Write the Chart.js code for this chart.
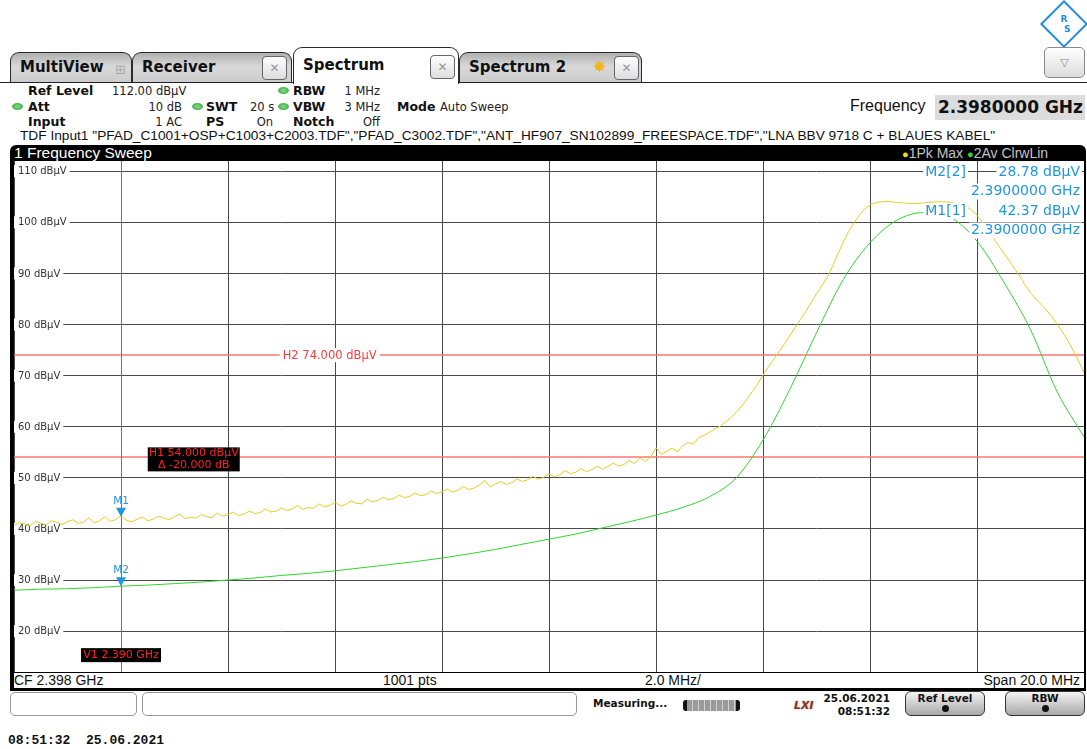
<!DOCTYPE html>
<html>
<head>
<meta charset="utf-8">
<script src="https://cdn.jsdelivr.net/npm/chart.js@4.4.1/dist/chart.umd.min.js"></script>
<style>
  body { margin: 0; width: 1087px; height: 749px; background: #fff; position: relative; overflow: hidden; font-family: 'DejaVu Sans', sans-serif; color: #111; }
  .abs { position: absolute; white-space: nowrap; }
  .tab { position: absolute; top: 52px; height: 31px; border: 1px solid #2a2a2a; border-bottom: none; border-radius: 9px 9px 0 0; background: linear-gradient(#b0b0b0, #d8d8d8 45%, #cbcbcb); box-sizing: border-box; z-index: 1; }
  .tab.active { top: 47px; height: 37px; background: #fff; z-index: 3; }
  .tab .t { position: absolute; left: 9px; top: 5px; font: bold 15px 'DejaVu Sans'; }
  .tab.active .t { top: 8px; }
  .close { position: absolute; top: 3px; width: 25px; height: 24px; border: 1px solid #666; border-radius: 4px; background: linear-gradient(#fff, #dedede); box-sizing: border-box; text-align: center; font: 12px 'DejaVu Sans'; color: #9a9a9a; line-height: 22px; }
  .lbl { font: bold 12.5px 'DejaVu Sans'; }
  .val { font: 11.5px 'DejaVu Sans'; color: #222; }
  .dot { position: absolute; width: 11px; height: 7px; border-radius: 50%; background: radial-gradient(#7fe07f, #2e9e3a); }
  .btn { position: absolute; top: 691px; width: 80px; height: 25px; border: 1px solid #333; border-radius: 6px; background: linear-gradient(#f4f4f4, #a8a8a8); box-sizing: border-box; text-align: center; font: bold 10.5px 'DejaVu Sans'; }
  .btn i { display: block; width: 7px; height: 7px; border-radius: 50%; background: #111; margin: 1px auto 0; }
</style>
</head>
<body>

<!-- R&S logo -->
<div class="abs" style="left:1047px;top:7px;width:30px;height:30px;border:2px solid #1f8fd6;transform:rotate(45deg);background:#fff;"></div>
<div class="abs" style="left:1049px;top:14px;width:30px;text-align:center;font:bold 9px 'DejaVu Sans';color:#1f8fd6;">R<br>&nbsp;&nbsp;S</div>

<!-- tabs -->
<div class="abs" style="left:0;top:82px;width:1087px;height:1px;background:#222;z-index:2;"></div>
<div class="tab" style="left:10px;width:122px;">
  <span class="t">MultiView</span>
  <span class="abs" style="left:104px;top:9px;font:13px 'DejaVu Sans';color:#aaa;">⊞</span>
</div>
<div class="tab" style="left:132px;width:160px;">
  <span class="t">Receiver</span>
  <div class="close" style="left:129px;">✕</div>
</div>
<div class="tab active" style="left:293px;width:166px;">
  <span class="t">Spectrum</span>
  <div class="close" style="left:136px;top:7px;">✕</div>
</div>
<div class="tab" style="left:459px;width:183px;">
  <span class="t">Spectrum 2</span>
  <span class="abs" style="left:133px;top:4px;font:16px 'DejaVu Sans';color:#f2b51e;">✸</span>
  <div class="close" style="left:154px;">✕</div>
</div>
<div class="abs" style="left:1044px;top:47px;width:41px;height:31px;border:1px solid #888;border-radius:5px;background:linear-gradient(#fff,#dcdcdc);box-sizing:border-box;text-align:center;font:11px 'DejaVu Sans';color:#888;line-height:29px;">▽</div>

<!-- settings block -->
<span class="abs lbl" style="left:28px;top:83px;">Ref Level</span>
<span class="abs val" style="left:112px;top:84px;">112.00 dBµV</span>
<div class="dot" style="left:278px;top:87px;"></div>
<span class="abs lbl" style="left:293px;top:83px;">RBW</span>
<span class="abs val" style="right:707px;top:84px;">1 MHz</span>

<div class="dot" style="left:12px;top:103px;"></div>
<span class="abs lbl" style="left:28px;top:99px;">Att</span>
<span class="abs val" style="right:905px;top:100px;">10 dB</span>
<div class="dot" style="left:192px;top:103px;"></div>
<span class="abs lbl" style="left:206px;top:99px;">SWT</span>
<span class="abs val" style="left:250px;top:100px;">20 s</span>
<div class="dot" style="left:278px;top:103px;"></div>
<span class="abs lbl" style="left:293px;top:99px;">VBW</span>
<span class="abs val" style="right:707px;top:100px;">3 MHz</span>
<span class="abs lbl" style="left:397px;top:99px;">Mode</span>
<span class="abs val" style="left:440px;top:100px;">Auto Sweep</span>

<span class="abs lbl" style="left:28px;top:114px;">Input</span>
<span class="abs val" style="right:905px;top:115px;">1 AC</span>
<span class="abs lbl" style="left:206px;top:114px;">PS</span>
<span class="abs val" style="right:814px;top:115px;">On</span>
<span class="abs lbl" style="left:293px;top:114px;">Notch</span>
<span class="abs val" style="right:707px;top:115px;">Off</span>

<span class="abs" style="left:850px;top:97px;font:16px 'Liberation Sans';">Frequency</span>
<div class="abs" style="left:935px;top:95px;width:150px;height:25px;background:#dcdcdc;text-align:right;font:bold 17px 'DejaVu Sans';line-height:25px;padding-right:2px;box-sizing:border-box;">2.3980000 GHz</div>

<span class="abs" style="left:20px;top:128px;font:13.7px 'Liberation Sans';color:#111;">TDF Input1 "PFAD_C1001+OSP+C1003+C2003.TDF","PFAD_C3002.TDF","ANT_HF907_SN102899_FREESPACE.TDF","LNA BBV 9718 C + BLAUES KABEL"</span>

<!-- diagram frame -->
<div class="abs" style="left:10px;top:145px;width:1076px;height:16px;background:#000;border-radius:6px 6px 0 0;"></div>
<span class="abs" style="left:14px;top:144px;font:15.5px 'Liberation Sans';color:#fff;line-height:17px;">1 Frequency Sweep</span>
<span class="abs" style="left:902px;top:145px;font:14px 'Liberation Sans';color:#c4c4c4;line-height:16px;white-space:pre;"><span style="color:#f2dc1c;font-size:11px;">●</span>1Pk Max <span style="color:#2fd62f;font-size:11px;">●</span>2Av ClrwLin</span>
<div class="abs" style="left:10px;top:161px;width:4px;height:530px;background:#000;"></div>
<div class="abs" style="left:1084px;top:161px;width:2px;height:530px;background:#000;"></div>
<canvas id="spec" width="1070" height="511" style="position:absolute;left:14px;top:161px;"></canvas>
<div class="abs" style="left:14px;top:672px;width:1070px;height:1px;background:#000;"></div>
<span class="abs" style="left:14px;top:672px;font:14px 'Liberation Sans';">CF 2.398 GHz</span>
<span class="abs" style="left:383px;top:672px;font:14px 'Liberation Sans';">1001 pts</span>
<span class="abs" style="left:645px;top:672px;font:14px 'Liberation Sans';">2.0 MHz/</span>
<span class="abs" style="right:7px;top:672px;font:14px 'Liberation Sans';">Span 20.0 MHz</span>
<div class="abs" style="left:10px;top:688px;width:1076px;height:3px;background:#000;"></div>

<!-- status bar -->
<div class="abs" style="left:10px;top:692px;width:127px;height:24px;border:1px solid #999;border-radius:5px;box-sizing:border-box;"></div>
<div class="abs" style="left:142px;top:692px;width:435px;height:24px;border:1px solid #999;border-radius:5px;box-sizing:border-box;"></div>
<span class="abs" style="left:593px;top:697px;font:bold 10.5px 'DejaVu Sans';">Measuring...</span>
<div class="abs" style="left:683px;top:700px;width:57px;height:11px;border-radius:3px;background:repeating-linear-gradient(90deg,#9a9a9a 0 5px,#d0d0d0 5px 6px);border-left:4px solid #111;border-right:4px solid #111;box-sizing:border-box;"></div>
<span class="abs" style="left:794px;top:699px;font:italic bold 11px 'DejaVu Sans';color:#b0203a;text-shadow:0 0 2px #4c4;">LXI</span>
<span class="abs" style="right:197px;top:692px;font:bold 10.5px 'DejaVu Sans';">25.06.2021</span>
<span class="abs" style="right:197px;top:705px;font:bold 10.5px 'DejaVu Sans';">08:51:32</span>
<div class="btn" style="left:905px;">Ref Level<i></i></div>
<div class="btn" style="left:1005px;">RBW<i></i></div>

<span class="abs" style="left:8px;top:733px;font:bold 13px 'Liberation Mono';white-space:pre;">08:51:32  25.06.2021</span>

<script>
// sweep settings
const startGHz = 2.388;
const stopGHz = 2.408;
const refLevelDbuv = 112;
const bottomLevelDbuv = 12;
const freqGridGHz = [2.388, 2.390, 2.392, 2.394, 2.396, 2.398, 2.400, 2.402, 2.404, 2.406, 2.408];
const levelTicksDbuv = [20, 30, 40, 50, 60, 70, 80, 90, 100, 110];

// trace 1: 1Pk Max, one value per 0.1 MHz
const pkStepGHz = 0.0001;
const pkMaxDbuv = [
  40.7, 41.2, 41.0, 40.6, 41.5, 41.1, 40.8, 41.6, 41.3, 40.9,
  41.4, 41.8, 41.1, 41.3, 42.2, 41.2, 41.6, 42.4, 41.5, 41.8,
  42.6, 41.7, 41.4, 41.9, 42.3, 41.6, 41.9, 42.5, 42.1, 41.8,
  42.4, 42.9, 42.0, 42.3, 42.1, 42.8, 42.4, 42.2, 43.1, 42.5,
  42.8, 43.3, 42.6, 42.9, 43.5, 43.0, 43.2, 43.9, 43.3, 43.5,
  44.1, 43.6, 43.9, 44.6, 43.8, 44.2, 44.0, 44.9, 44.3, 44.6,
  45.2, 44.5, 44.8, 45.5, 45.0, 44.9, 45.8, 45.3, 45.6, 46.2,
  45.7, 46.0, 46.6, 46.1, 46.4, 47.0, 46.5, 46.7, 47.4, 46.9,
  47.3, 47.8, 47.2, 47.6, 48.3, 47.7, 48.0, 48.6, 49.5, 48.2,
  48.8, 49.3, 48.7, 49.0, 49.8, 49.3, 49.6, 50.3, 49.7, 50.1,
  50.8, 50.2, 50.6, 51.4, 50.8, 51.1, 51.8, 51.2, 51.6, 52.3,
  51.7, 52.2, 52.9, 52.3, 52.6, 53.4, 52.8, 53.9, 53.2, 54.1,
  55.9, 54.6, 55.2, 55.8, 55.1, 56.3, 56.9, 56.6, 57.9, 58.3,
  58.9, 59.6, 60.1, 60.9, 61.8, 62.8, 64.0, 65.4, 66.9, 68.4,
  70.1, 71.7, 73.2, 74.7, 76.2, 77.8, 79.4, 81.0, 82.6, 84.3,
  86.0, 87.6, 89.2, 91.4, 93.8, 96.1, 98.2, 99.9, 101.4, 102.6,
  103.4, 103.8, 104.0, 104.1, 104.0, 103.9, 103.8, 103.7, 103.7, 103.7,
  103.8, 103.9, 104.0, 104.0, 104.0, 103.9, 103.7, 103.5, 103.1, 102.4,
  101.4, 100.0, 98.6, 97.0, 95.5, 94.0, 92.5, 91.0, 89.4, 87.7,
  86.2, 85.0, 83.9, 82.8, 81.5, 80.0, 78.5, 76.8, 74.9, 72.8,
  70.6
];

// trace 2: 2Av ClrwLin, one value per 0.5 MHz
const avStepGHz = 0.0005;
const avgDbuv = [
  28.0, 28.2, 28.3, 28.5, 28.8, 29.0, 29.3, 29.6, 30.0, 30.4,
  30.9, 31.3, 31.8, 32.4, 33.0, 33.6, 34.3, 35.1, 36.0, 37.0,
  38.0, 39.0, 40.2, 41.4, 42.7, 44.2, 46.3, 50.0, 57.4, 67.3,
  78.4, 88.8, 96.0, 100.4, 101.9, 101.0, 96.3, 88.3, 79.0, 66.8,
  58.0
];

// lines and markers
const h1Dbuv = 54;
const h2Dbuv = 74;
const v1GHz = 2.390;
const markerNames = ['M1', 'M2'];
const markerFreqGHz = [2.390, 2.390];
const markerLevelDbuv = [42.37, 28.78];

const pkPoints = pkMaxDbuv.map((v, i) => ({ x: startGHz + i * pkStepGHz, y: v }));
const avPoints = avgDbuv.map((v, i) => ({ x: startGHz + i * avStepGHz, y: v }));

const RED = '#f03c3c';
const BLUE = '#1f96e0';

const overlay = {
  id: 'overlay',
  beforeDatasetsDraw(chart) {
    const { ctx, chartArea: a, scales: { x, y } } = chart;
    ctx.save();
    // level labels inside the grid
    ctx.font = "10px 'DejaVu Sans'";
    ctx.textBaseline = 'middle';
    levelTicksDbuv.forEach(v => {
      const py = y.getPixelForValue(v);
      const txt = v + ' dBµV';
      const w = ctx.measureText(txt).width;
      ctx.fillStyle = '#fff';
      ctx.fillRect(a.left, py - 6, w + 7, 12);
      ctx.fillStyle = '#333';
      ctx.fillText(txt, a.left + 4, py + 0.5);
    });
    // H1 / H2 lines
    ctx.strokeStyle = '#ff7474';
    ctx.lineWidth = 1.5;
    [h1Dbuv, h2Dbuv].forEach(v => {
      const py = Math.round(y.getPixelForValue(v));
      ctx.beginPath();
      ctx.moveTo(a.left, py);
      ctx.lineTo(a.right, py);
      ctx.stroke();
    });
    // V1 line
    ctx.strokeStyle = RED;
    ctx.lineWidth = 1;
    const vx = Math.round(x.getPixelForValue(v1GHz)) + 0.5;
    ctx.beginPath();
    ctx.moveTo(vx, a.top);
    ctx.lineTo(vx, a.bottom);
    ctx.stroke();

    // H2 label
    ctx.font = "11.5px 'DejaVu Sans'";
    const h2txt = 'H2 74.000 dBµV';
    const h2w = ctx.measureText(h2txt).width;
    const h2x = x.getPixelForValue(2.3939);
    const h2y = y.getPixelForValue(h2Dbuv);
    ctx.fillStyle = '#fff';
    ctx.fillRect(h2x - h2w / 2 - 3, h2y - 7, h2w + 6, 14);
    ctx.fillStyle = '#ff3a3a';
    ctx.textAlign = 'center';
    ctx.fillText(h2txt, h2x, h2y + 0.5);
    ctx.restore();
  },
  afterDatasetsDraw(chart) {
    const { ctx, chartArea: a, scales: { x, y } } = chart;
    ctx.save();
    ctx.textBaseline = 'middle';
    ctx.textAlign = 'center';

    // H1 box
    const h1y = y.getPixelForValue(h1Dbuv);
    const bx = x.getPixelForValue(2.3905);
    ctx.fillStyle = '#000';
    ctx.fillRect(bx, h1y - 10, 92, 24);
    ctx.fillStyle = '#ff2020';
    ctx.font = "11px 'DejaVu Sans'";
    ctx.fillText('H1 54.000 dBµV', bx + 46, h1y - 4);
    ctx.fillText('Δ -20.000 dB', bx + 46, h1y + 8);

    // V1 box
    const v1x = x.getPixelForValue(v1GHz);
    const v1y = y.getPixelForValue(15.3);
    ctx.fillStyle = '#000';
    ctx.fillRect(v1x - 40, v1y - 7, 80, 14);
    ctx.fillStyle = '#ff2020';
    ctx.fillText('V1 2.390 GHz', v1x, v1y + 0.5);

    // marker triangles
    markerNames.forEach((name, i) => {
      const mx = x.getPixelForValue(markerFreqGHz[i]);
      const my = y.getPixelForValue(markerLevelDbuv[i]);
      ctx.fillStyle = BLUE;
      ctx.beginPath();
      ctx.moveTo(mx, my);
      ctx.lineTo(mx - 5, my - 9);
      ctx.lineTo(mx + 5, my - 9);
      ctx.closePath();
      ctx.fill();
      ctx.font = "10.5px 'DejaVu Sans'";
      ctx.fillText(name, mx, my - 16);
    });

    // marker table
    ctx.font = "14px 'DejaVu Sans'";
    const rows = [
      ['M2[2]', markerLevelDbuv[1].toFixed(2) + ' dBµV'],
      ['', (markerFreqGHz[1]).toFixed(7) + ' GHz'],
      ['M1[1]', markerLevelDbuv[0].toFixed(2) + ' dBµV'],
      ['', (markerFreqGHz[0]).toFixed(7) + ' GHz']
    ];
    rows.forEach((r, i) => {
      const ry = a.top + 11 + i * 19.5;
      const right = a.right - 4;
      const w = ctx.measureText(r[1]).width;
      ctx.fillStyle = '#fff';
      ctx.fillRect(right - w - 2, ry - 8, w + 4, 16);
      ctx.fillStyle = BLUE;
      ctx.textAlign = 'right';
      ctx.fillText(r[1], right, ry);
      if (r[0]) {
        const lw = ctx.measureText(r[0]).width;
        const lr = a.left + 952;
        ctx.fillStyle = '#fff';
        ctx.fillRect(lr - lw - 2, ry - 8, lw + 4, 16);
        ctx.fillStyle = BLUE;
        ctx.fillText(r[0], lr, ry);
      }
    });
    ctx.restore();
  }
};

new Chart(document.getElementById('spec'), {
  type: 'line',
  data: {
    datasets: [
      {
        label: '2Av ClrwLin',
        data: avPoints,
        borderColor: '#2fd62f',
        borderWidth: 1,
        pointRadius: 0,
        cubicInterpolationMode: 'monotone'
      },
      {
        label: '1Pk Max',
        data: pkPoints,
        borderColor: '#e6cf22',
        borderWidth: 1,
        pointRadius: 0,
        tension: 0
      }
    ]
  },
  options: {
    responsive: false,
    animation: false,
    devicePixelRatio: 1,
    layout: { padding: 0 },
    plugins: {
      legend: { display: false },
      tooltip: { enabled: false }
    },
    scales: {
      x: {
        type: 'linear',
        min: startGHz,
        max: stopGHz,
        afterBuildTicks: s => { s.ticks = freqGridGHz.map(v => ({ value: v })); },
        grid: { color: '#4a4a4a', drawTicks: false },
        border: { display: false },
        ticks: { display: false }
      },
      y: {
        min: bottomLevelDbuv,
        max: refLevelDbuv,
        afterBuildTicks: s => { s.ticks = levelTicksDbuv.map(v => ({ value: v })); },
        grid: { color: '#4a4a4a', drawTicks: false },
        border: { display: false },
        ticks: { display: false }
      }
    }
  },
  plugins: [overlay]
});
</script>
</body>
</html>
